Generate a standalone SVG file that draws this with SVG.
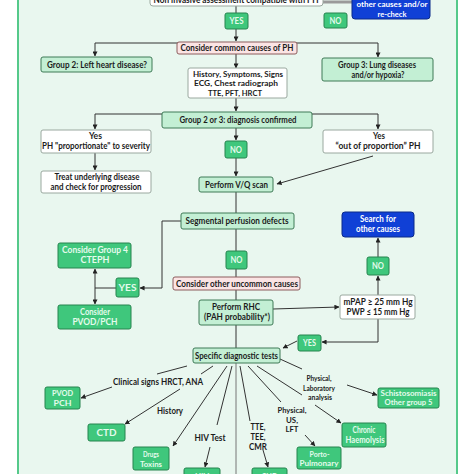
<svg xmlns="http://www.w3.org/2000/svg" width="474" height="474" viewBox="0 0 474 474">
<defs>
<marker id="ah" viewBox="0 0 6 6" refX="5.5" refY="3" markerWidth="5" markerHeight="5" orient="auto" markerUnits="userSpaceOnUse">
<path d="M0,0 L6,3 L0,6 z" fill="#222"/>
</marker>
<style>
text{font-family:Lato,"Liberation Sans",sans-serif;font-weight:bold;font-size:9px;fill:#1c1c1c;text-anchor:middle;}
text.s{font-size:8px;}
text.xs{font-size:7.5px;}
.lg{fill:#c3efd4;stroke:#3f7a57;stroke-width:1;}
.dg{fill:#3fc77c;stroke:#26844f;stroke-width:1;}
text.dgt{fill:#e4fbec;}
.pk{fill:#fbe4e4;stroke:#8c5c5c;stroke-width:1;}
.wh{fill:#ffffff;stroke:#9aa89f;stroke-width:1;}
.bl{fill:#1040d6;stroke:#0a2a8a;stroke-width:1;}
text.blt{fill:#ffffff;}
.c{fill:none;stroke:#333;stroke-width:1;}
.ca{fill:none;stroke:#333;stroke-width:1;marker-end:url(#ah);}
</style>
</defs>
<rect x="0" y="0" width="474" height="474" fill="#ffffff"/>
<rect x="18" y="-10" width="439" height="500" fill="#e9f7ef" stroke="#55c98a" stroke-width="2"/>

<g id="connectors">
<line x1="323" y1="2" x2="352" y2="2" stroke="#9a9a9a" stroke-width="3"/>
<line class="c" x1="236" y1="6" x2="236" y2="13"/>
<line class="ca" x1="236" y1="29" x2="236" y2="41"/>
<polyline class="c" points="95,43 378,43"/>
<line class="ca" x1="95" y1="43" x2="95" y2="56"/>
<line class="ca" x1="378" y1="43" x2="378" y2="57"/>
<line class="ca" x1="236" y1="54" x2="236" y2="68"/>
<line class="ca" x1="236" y1="98" x2="236" y2="111"/>
<line class="c" x1="95" y1="114" x2="378" y2="114"/>
<line class="ca" x1="95" y1="114" x2="95" y2="129"/>
<line class="ca" x1="378" y1="114" x2="378" y2="129"/>
<line class="ca" x1="236" y1="128" x2="236" y2="140"/>
<line class="ca" x1="236" y1="158" x2="236" y2="176"/>
<line class="ca" x1="95" y1="153" x2="95" y2="170"/>
<line class="ca" x1="373" y1="156" x2="277" y2="184"/>
<line class="c" x1="236" y1="192" x2="236" y2="213"/>
<polyline class="ca" points="181,221 162,221 162,288 140,288"/>
<line class="c" x1="116" y1="288" x2="95" y2="288"/>
<line class="ca" x1="95" y1="288" x2="95" y2="269"/>
<line class="ca" x1="95" y1="288" x2="95" y2="304"/>
<line class="c" x1="236" y1="229" x2="236" y2="251"/>
<line class="c" x1="236" y1="269" x2="236" y2="277"/>
<line class="c" x1="236" y1="290" x2="236" y2="300"/>
<line class="ca" x1="273" y1="309" x2="339" y2="307"/>
<line class="ca" x1="378" y1="295" x2="378" y2="276"/>
<line class="ca" x1="378" y1="257" x2="378" y2="238"/>
<polyline class="ca" points="378,319 378,342 322,342"/>
<line class="ca" x1="297" y1="341" x2="283" y2="348"/>
<line class="c" x1="236" y1="325" x2="236" y2="348"/>
<line x1="236" y1="363" x2="236" y2="474" stroke="#777" stroke-width="1"/>
<line class="c" x1="187" y1="366" x2="157" y2="374"/>
<line class="ca" x1="112" y1="387" x2="81" y2="398"/>
<line class="c" x1="213" y1="366" x2="201" y2="374"/>
<line class="ca" x1="180" y1="389" x2="125" y2="424"/>
<line class="ca" x1="227" y1="366" x2="173" y2="446"/>
<line class="c" x1="232" y1="366" x2="217" y2="425"/>
<line class="ca" x1="210" y1="447" x2="205" y2="467"/>
<line class="c" x1="240" y1="366" x2="250" y2="421"/>
<line class="ca" x1="263" y1="450" x2="268" y2="467"/>
<line class="c" x1="248" y1="366" x2="281" y2="402"/>
<line class="ca" x1="305" y1="435" x2="315" y2="446"/>
<line class="c" x1="257" y1="366" x2="302" y2="395"/>
<line class="ca" x1="315" y1="405" x2="341" y2="423"/>
<line class="c" x1="280" y1="359" x2="302" y2="369"/>
<line class="ca" x1="347" y1="385" x2="377" y2="395"/>
</g>

<g id="n-top"><rect class="wh" x="150" y="-20" width="173" height="26" rx="3"/><text x="236" y="3" textLength="165" lengthAdjust="spacingAndGlyphs">Non invasive assessment compatible with PH</text></g>
<g id="n-search1"><rect class="bl" x="352" y="-18" width="78" height="37" rx="3"/><text class="blt s" x="392" y="-8" textLength="36" lengthAdjust="spacingAndGlyphs">Search for</text><text class="blt s" x="392" y="7" textLength="71" lengthAdjust="spacingAndGlyphs">other causes and/or</text><text class="blt s" x="392" y="16.5" textLength="29" lengthAdjust="spacingAndGlyphs">re-check</text></g>
<g id="n-yes1"><rect class="dg" x="225" y="13" width="23" height="16" rx="2"/><text class="dgt" x="236.5" y="24" textLength="14" lengthAdjust="spacingAndGlyphs">YES</text></g>
<g id="n-no1"><rect class="dg" x="324" y="13" width="23" height="15" rx="2"/><text class="dgt" x="335.5" y="24" textLength="12" lengthAdjust="spacingAndGlyphs">NO</text></g>
<g id="n-common"><rect class="pk" x="177" y="42" width="120" height="12" rx="2"/><text x="237" y="51" textLength="113" lengthAdjust="spacingAndGlyphs">Consider common causes of PH</text></g>
<g id="n-group2"><rect class="lg" x="41" y="57" width="111" height="15" rx="2"/><text x="97" y="68" textLength="100" lengthAdjust="spacingAndGlyphs">Group 2: Left heart disease?</text></g>
<g id="n-group3"><rect class="lg" x="322" y="58" width="111" height="23" rx="2"/><text x="377" y="68" textLength="78" lengthAdjust="spacingAndGlyphs">Group 3: Lung diseases</text><text x="378" y="78" textLength="53" lengthAdjust="spacingAndGlyphs">and/or hypoxia?</text></g>
<g id="n-history"><rect class="wh" x="188" y="68" width="99" height="30" rx="2"/><text class="s" x="238" y="76.5" textLength="90" lengthAdjust="spacingAndGlyphs">History, Symptoms, Signs</text><text class="s" x="236" y="86" textLength="84" lengthAdjust="spacingAndGlyphs">ECG, Chest radiograph</text><text class="s" x="235" y="95.5" textLength="54" lengthAdjust="spacingAndGlyphs">TTE, PFT, HRCT</text></g>
<g id="n-confirmed"><rect class="lg" x="162" y="112" width="150" height="16" rx="2"/><text x="238" y="123" textLength="117" lengthAdjust="spacingAndGlyphs">Group 2 or 3: diagnosis confirmed</text></g>
<g id="n-prop"><rect class="wh" x="41" y="130" width="110" height="23" rx="2"/><text x="95.5" y="139" textLength="13" lengthAdjust="spacingAndGlyphs">Yes</text><text x="96" y="149" textLength="108" lengthAdjust="spacingAndGlyphs">PH "proportionate" to severity</text></g>
<g id="n-outprop"><rect class="wh" x="323" y="130" width="110" height="23" rx="2"/><text x="379" y="139" textLength="12" lengthAdjust="spacingAndGlyphs">Yes</text><text x="378" y="149" textLength="85" lengthAdjust="spacingAndGlyphs">“out of proportion” PH</text></g>
<g id="n-no2"><rect class="dg" x="225" y="141" width="22" height="17" rx="2"/><text class="dgt" x="236" y="153" textLength="12" lengthAdjust="spacingAndGlyphs">NO</text></g>
<g id="n-treat"><rect class="wh" x="41" y="171" width="110" height="22" rx="2"/><text x="97" y="180" textLength="85" lengthAdjust="spacingAndGlyphs">Treat underlying disease</text><text x="96" y="190" textLength="91" lengthAdjust="spacingAndGlyphs">and check for progression</text></g>
<g id="n-vq"><rect class="lg" x="199" y="177" width="74" height="15" rx="2"/><text x="236.5" y="188" textLength="63" lengthAdjust="spacingAndGlyphs">Perform V/Q scan</text></g>
<g id="n-segmental"><rect class="lg" x="181" y="213" width="113" height="16" rx="2"/><text x="237" y="224" textLength="103" lengthAdjust="spacingAndGlyphs">Segmental perfusion defects</text></g>
<g id="n-search2"><rect class="bl" x="342" y="212" width="72" height="25" rx="3"/><text class="blt" x="378" y="222" textLength="36" lengthAdjust="spacingAndGlyphs">Search for</text><text class="blt" x="378" y="232" textLength="44" lengthAdjust="spacingAndGlyphs">other causes</text></g>
<g id="n-cteph"><rect class="dg" x="58" y="243" width="73" height="25" rx="2"/><text class="dgt" x="95" y="253" textLength="66" lengthAdjust="spacingAndGlyphs">Consider Group 4</text><text class="dgt" x="95" y="263" textLength="29" lengthAdjust="spacingAndGlyphs">CTEPH</text></g>
<g id="n-no3"><rect class="dg" x="226" y="251" width="21" height="18" rx="2"/><text class="dgt" x="236.5" y="263" textLength="12" lengthAdjust="spacingAndGlyphs">NO</text></g>
<g id="n-yes2"><rect class="dg" x="116" y="278" width="23" height="19" rx="2"/><text class="dgt" x="127.5" y="291" textLength="18" lengthAdjust="spacingAndGlyphs">YES</text></g>
<g id="n-uncommon"><rect class="pk" x="173" y="277" width="127" height="13" rx="2"/><text x="237" y="287" textLength="122" lengthAdjust="spacingAndGlyphs">Consider other uncommon causes</text></g>
<g id="n-pvod1"><rect class="dg" x="58" y="305" width="73" height="24" rx="2"/><text class="dgt" x="95" y="315" textLength="30" lengthAdjust="spacingAndGlyphs">Consider</text><text class="dgt" x="95" y="325" textLength="45" lengthAdjust="spacingAndGlyphs">PVOD/PCH</text></g>
<g id="n-rhc"><rect class="lg" x="199" y="300" width="74" height="25" rx="2"/><text x="236" y="310" textLength="48" lengthAdjust="spacingAndGlyphs">Perform RHC</text><text x="237" y="320" textLength="66" lengthAdjust="spacingAndGlyphs">(PAH probability*)</text></g>
<g id="n-no4"><rect class="dg" x="367" y="257" width="22" height="18" rx="2"/><text class="dgt" x="378" y="269" textLength="12" lengthAdjust="spacingAndGlyphs">NO</text></g>
<g id="n-mpap"><rect class="wh" x="340" y="295" width="75" height="24" rx="2"/><text x="378" y="305" textLength="69" lengthAdjust="spacingAndGlyphs">mPAP ≥ 25 mm Hg</text><text x="378" y="315" textLength="63" lengthAdjust="spacingAndGlyphs">PWP ≤ 15 mm Hg</text></g>
<g id="n-yes3"><rect class="dg" x="298" y="335" width="23" height="16" rx="2"/><text class="dgt" x="309.5" y="346" textLength="13" lengthAdjust="spacingAndGlyphs">YES</text></g>
<g id="n-specific"><rect class="lg" x="193" y="348" width="87" height="15" rx="2"/><text x="236.5" y="359" textLength="83" lengthAdjust="spacingAndGlyphs">Specific diagnostic tests</text></g>

<g id="labels">
<text x="158" y="385" textLength="90" lengthAdjust="spacingAndGlyphs">Clinical signs HRCT, ANA</text>
<text class="s" x="319" y="381" textLength="25" lengthAdjust="spacingAndGlyphs">Physical,</text>
<text class="s" x="319" y="390.5" textLength="32" lengthAdjust="spacingAndGlyphs">Laboratory</text>
<text class="s" x="320" y="400" textLength="24" lengthAdjust="spacingAndGlyphs">analysis</text>
<text x="170" y="414" textLength="26" lengthAdjust="spacingAndGlyphs">History</text>
<text x="210" y="441" textLength="31" lengthAdjust="spacingAndGlyphs">HIV Test</text>
<text x="258" y="430" textLength="15" lengthAdjust="spacingAndGlyphs">TTE,</text>
<text x="258" y="440" textLength="15" lengthAdjust="spacingAndGlyphs">TEE,</text>
<text x="258" y="450" textLength="18" lengthAdjust="spacingAndGlyphs">CMR</text>
<text class="s" x="292" y="413" textLength="29" lengthAdjust="spacingAndGlyphs">Physical,</text>
<text class="s" x="292" y="422.5" textLength="12" lengthAdjust="spacingAndGlyphs">US,</text>
<text class="s" x="292" y="432" textLength="13" lengthAdjust="spacingAndGlyphs">LFT</text>
</g>

<g id="n-pvod2"><rect class="dg" x="45" y="387" width="35" height="22" rx="2"/><text class="dgt s" x="62.5" y="396" textLength="21" lengthAdjust="spacingAndGlyphs">PVOD</text><text class="dgt s" x="62.5" y="405.5" textLength="18" lengthAdjust="spacingAndGlyphs">PCH</text></g>
<g id="n-ctd"><rect class="dg" x="88" y="424" width="37" height="17" rx="2"/><text class="dgt" x="106.5" y="436" textLength="20" lengthAdjust="spacingAndGlyphs">CTD</text></g>
<g id="n-drugs"><rect class="dg" x="133" y="447" width="36" height="23" rx="2"/><text class="dgt s" x="151" y="457" textLength="16" lengthAdjust="spacingAndGlyphs">Drugs</text><text class="dgt s" x="151" y="466.5" textLength="22" lengthAdjust="spacingAndGlyphs">Toxins</text></g>
<g id="n-hiv"><rect class="dg" x="184" y="468" width="36" height="24" rx="2"/><text class="dgt" x="202" y="480" textLength="14" lengthAdjust="spacingAndGlyphs">HIV</text></g>
<g id="n-chd"><rect class="dg" x="252" y="468" width="35" height="24" rx="2"/><text class="dgt" x="269.5" y="480" textLength="16" lengthAdjust="spacingAndGlyphs">CHD</text></g>
<g id="n-porto"><rect class="dg" x="297" y="447" width="44" height="22" rx="2"/><text class="dgt s" x="319.5" y="456.5" textLength="20" lengthAdjust="spacingAndGlyphs">Porto-</text><text class="dgt s" x="319" y="466" textLength="39" lengthAdjust="spacingAndGlyphs">Pulmonary</text></g>
<g id="n-chronic"><rect class="dg" x="342" y="423" width="44" height="24" rx="2"/><text class="dgt" x="364" y="433" textLength="23" lengthAdjust="spacingAndGlyphs">Chronic</text><text class="dgt" x="365" y="443" textLength="39" lengthAdjust="spacingAndGlyphs">Haemolysis</text></g>
<g id="n-schisto"><rect class="dg" x="378" y="388" width="61" height="20" rx="2"/><text class="dgt xs" x="408.5" y="396" textLength="56" lengthAdjust="spacingAndGlyphs">Schistosomiasis</text><text class="dgt xs" x="408.5" y="404.5" textLength="48" lengthAdjust="spacingAndGlyphs">Other group 5</text></g>
</svg>
